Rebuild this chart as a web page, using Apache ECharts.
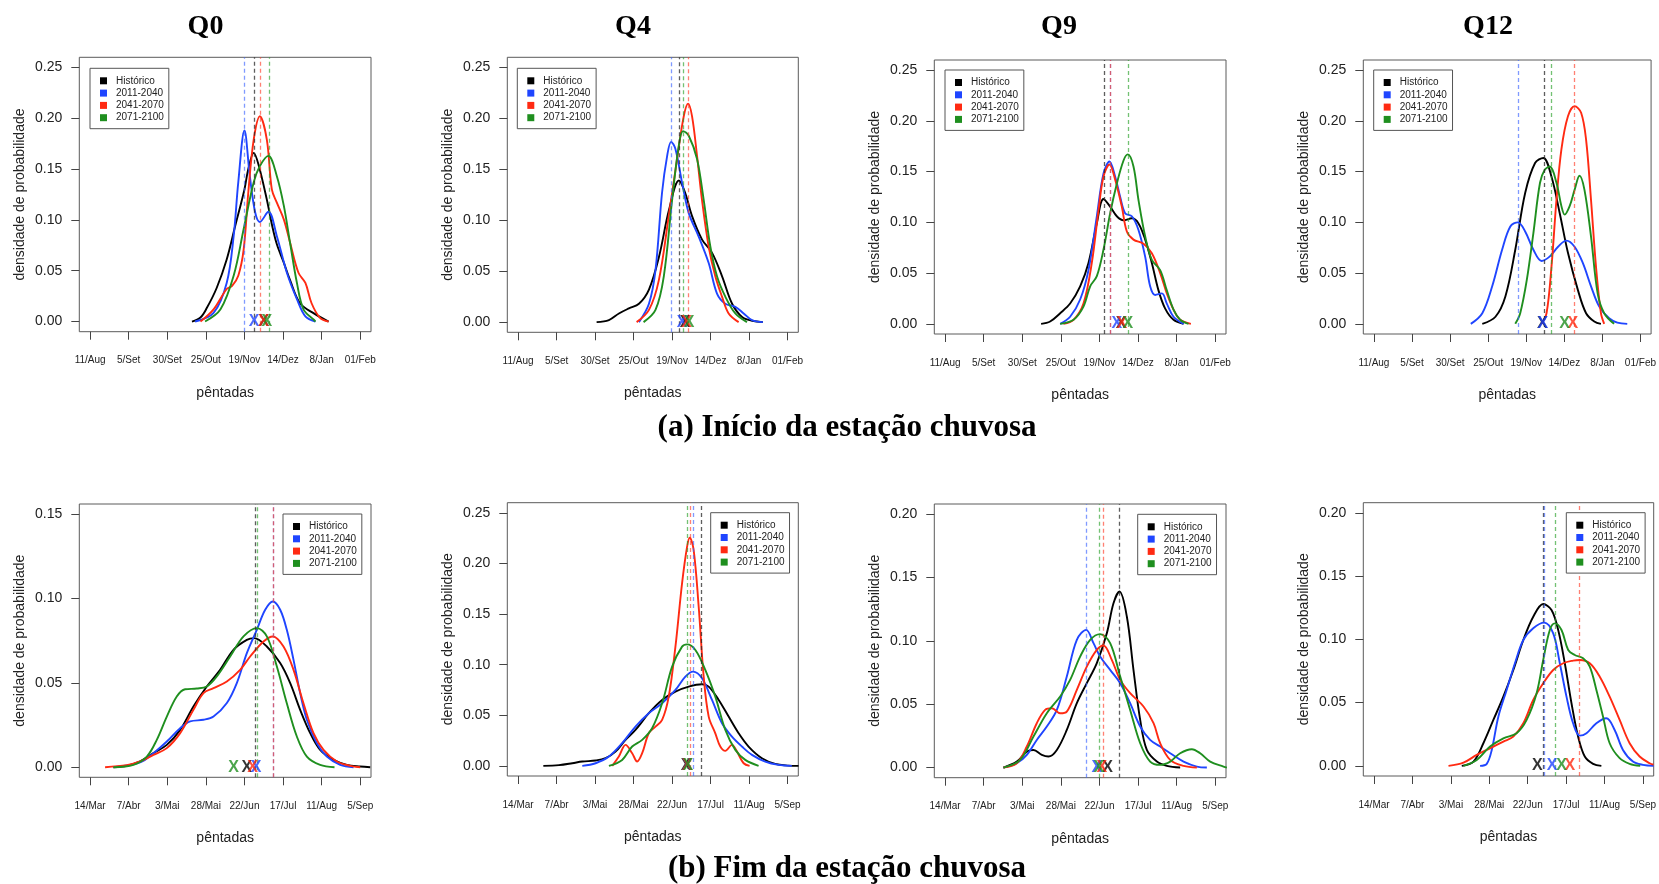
<!DOCTYPE html>
<html>
<head>
<meta charset="utf-8">
<script src="https://cdn.jsdelivr.net/npm/echarts@6/dist/echarts.min.js"></script>
<style>
  html, body { margin: 0; padding: 0; background: #ffffff; }
  #chart { width: 1659px; height: 884px; }
</style>
</head>
<body>
<div id="chart"></div>
<script>
// ---- series and labels -------------------------------------------------
const seriesNames = ['Histórico', '2011-2040', '2041-2070', '2071-2100'];
const quantileTitles = ['Q0', 'Q4', 'Q9', 'Q12'];
const sectionCaptions = ['(a) Início da estação chuvosa', '(b) Fim da estação chuvosa'];

// x axis: pêntadas, one tick every 5 pentads
const onsetTickLabels = ['11/Aug', '5/Set', '30/Set', '25/Out', '19/Nov', '14/Dez', '8/Jan', '01/Feb'];
const endTickLabels = ['14/Mar', '7/Abr', '3/Mai', '28/Mai', '22/Jun', '17/Jul', '11/Aug', '5/Sep'];
const xTickValues = [0, 5, 10, 15, 20, 25, 30, 35];
const yTickValues = [0, 0.05, 0.10, 0.15, 0.20, 0.25];
const onsetYMax = [0.25, 0.25, 0.25, 0.25];
const endYMax = [0.15, 0.25, 0.20, 0.20];

// ---- (a) onset densities: [pentad, density] ----------------------------
const onsetQ0Hist = [[13.2,0],[14.3,0.004],[15.1,0.013],[16.4,0.033],[17.7,0.061],[18.8,0.094],[20.0,0.130],[20.5,0.150],[21.2,0.166],[21.8,0.155],[22.9,0.120],[23.6,0.094],[24.2,0.076],[25.1,0.058],[25.9,0.041],[27.2,0.018],[29.0,0.008],[30.9,0]];
const onsetQ0P1 = [[13.6,0],[16.0,0.0085],[17.7,0.038],[18.6,0.084],[19.2,0.137],[20.0,0.188],[20.7,0.143],[21.4,0.107],[22.0,0.098],[23.1,0.108],[24.2,0.084],[25.5,0.048],[26.8,0.022],[27.9,0.005],[29.2,0]];
const onsetQ0P2 = [[14.3,0],[16.0,0.012],[17.7,0.032],[18.4,0.035],[19.2,0.045],[19.9,0.071],[20.5,0.127],[21.2,0.179],[22.0,0.202],[22.9,0.179],[23.55,0.130],[24.2,0.117],[25.1,0.1005],[25.9,0.078],[27.0,0.048],[27.9,0.038],[28.7,0.018],[29.8,0.0036],[30.9,0]];
const onsetQ0P3 = [[14.9,0],[16.9,0.012],[18.6,0.045],[19.9,0.091],[21.2,0.137],[22.0,0.153],[23.1,0.163],[24.2,0.143],[25.1,0.114],[25.9,0.078],[26.8,0.038],[27.65,0.012],[28.95,0.002],[29.2,0]];
const onsetQ0Lines = [21.26, 20.0, 22.08, 23.16];
const onsetQ0Crosses = [22.5, 21.26, 22.47, 22.9];

const onsetQ4Hist = [[10.2,0],[11.8,0.002],[13.1,0.0085],[14.4,0.0135],[15.7,0.018],[17.0,0.032],[18.3,0.064],[19.6,0.110],[20.9,0.139],[21.7,0.127],[22.6,0.104],[23.9,0.081],[25.2,0.068],[26.5,0.045],[27.8,0.018],[29.1,0.005],[30.4,0.0013],[31.8,0]];
const onsetQ4P1 = [[15.7,0],[17.0,0.018],[17.85,0.051],[18.7,0.127],[19.36,0.163],[19.88,0.177],[20.44,0.170],[21.3,0.137],[22.17,0.107],[23.46,0.084],[24.76,0.058],[25.84,0.028],[26.92,0.018],[28.22,0.015],[29.3,0.0085],[30.38,0.002],[31.8,0]];
const onsetQ4P2 = [[15.4,0],[17.0,0.012],[18.28,0.041],[19.57,0.104],[20.65,0.160],[21.52,0.202],[22.08,0.2145],[22.6,0.202],[23.25,0.163],[23.89,0.120],[24.76,0.074],[25.62,0.045],[26.49,0.025],[27.35,0.0085],[28.65,0]];
const onsetQ4P3 = [[16.3,0],[17.85,0.012],[18.93,0.045],[20.01,0.120],[20.87,0.173],[21.43,0.1875],[22.17,0.183],[23.25,0.160],[24.11,0.120],[24.98,0.074],[25.84,0.045],[26.92,0.025],[28.22,0.0085],[29.73,0]];
const onsetQ4Lines = [20.96, 19.88, 22.12, 21.48];
const onsetQ4Crosses = [21.7, 21.3, 21.9, 22.2];

const onsetQ9Hist = [[12.44,0],[13.61,0.0023],[14.91,0.0105],[16.2,0.020],[17.5,0.037],[18.58,0.060],[19.66,0.099],[20.52,0.123],[21.39,0.1155],[22.25,0.106],[23.12,0.102],[24.2,0.104],[25.06,0.099],[25.93,0.083],[26.79,0.060],[27.65,0.033],[28.52,0.015],[29.6,0.004],[30.9,0]];
const onsetQ9P1 = [[14.91,0],[16.2,0.007],[17.5,0.024],[18.58,0.053],[19.66,0.106],[20.52,0.148],[21.3,0.160],[22.04,0.145],[22.69,0.125],[23.33,0.109],[24.2,0.106],[25.06,0.0925],[25.93,0.066],[26.57,0.037],[27.22,0.0285],[28.09,0.030],[28.73,0.020],[29.6,0.007],[30.9,0]];
const onsetQ9P2 = [[15.34,0],[16.64,0.004],[17.93,0.020],[19.01,0.060],[19.88,0.112],[20.52,0.145],[21.3,0.157],[22.04,0.142],[22.9,0.1155],[23.55,0.091],[24.41,0.083],[25.71,0.079],[26.79,0.0696],[27.87,0.050],[28.73,0.030],[29.6,0.014],[30.46,0.004],[31.85,0]];
const onsetQ9P3 = [[14.91,0],[16.64,0.004],[17.93,0.017],[18.8,0.037],[19.66,0.047],[20.52,0.073],[21.39,0.109],[22.25,0.138],[23.12,0.161],[23.68,0.167],[24.41,0.155],[25.06,0.122],[25.93,0.086],[26.79,0.063],[27.87,0.053],[28.73,0.033],[29.6,0.014],[30.46,0.004],[31.54,0]];
const onsetQ9Lines = [20.61, 21.35, 21.42, 23.68];
const onsetQ9Crosses = [22.8, 22.25, 22.9, 23.68];

const onsetQ12Hist = [[14.23,0],[15.96,0.007],[17.26,0.027],[18.56,0.073],[19.86,0.129],[21.16,0.1585],[22.24,0.1635],[23.32,0.145],[24.4,0.109],[25.48,0.070],[26.78,0.0335],[27.86,0.0105],[28.94,0.0023],[29.81,0]];
const onsetQ12P1 = [[12.72,0],[14.23,0.0105],[15.53,0.037],[16.83,0.073],[17.91,0.096],[18.91,0.100],[19.86,0.091],[20.94,0.073],[22.02,0.062],[23.1,0.0665],[24.18,0.076],[25.27,0.082],[26.35,0.076],[27.43,0.060],[28.51,0.037],[29.59,0.017],[30.89,0.0056],[31.97,0.0013],[33.27,0]];
const onsetQ12P2 = [[22.02,0],[22.67,0.0105],[23.32,0.0566],[23.97,0.122],[24.62,0.172],[25.48,0.2046],[26.35,0.2145],[27.21,0.208],[27.86,0.1816],[28.51,0.122],[29.16,0.0566],[29.81,0.0105],[30.24,0]];
const onsetQ12P3 = [[18.56,0],[19.21,0.0105],[20.07,0.043],[20.94,0.0895],[21.81,0.139],[22.45,0.152],[23.1,0.155],[23.97,0.139],[24.62,0.116],[25.05,0.1076],[25.7,0.116],[26.35,0.132],[27.0,0.146],[27.65,0.132],[28.51,0.086],[29.38,0.030],[30.24,0.0105],[31.54,0]];
const onsetQ12Lines = [22.37, 18.91, 26.35, 23.23];
const onsetQ12Crosses = [22.11, 22.19, 26.13, 25.05];

// ---- (b) end-of-season densities ---------------------------------------
const endQ0Hist = [[3.02,0],[4.75,0.0008],[6.48,0.0034],[8.21,0.0083],[9.94,0.0132],[11.67,0.0221],[13.39,0.036],[15.12,0.0478],[16.85,0.0577],[18.58,0.0696],[20.31,0.0755],[21.26,0.0765],[22.9,0.0715],[24.63,0.0617],[25.93,0.0498],[27.22,0.034],[28.52,0.0202],[29.81,0.0103],[31.54,0.0043],[33.27,0.0014],[35.0,0.0004],[36.3,0]];
const endQ0P1 = [[3.02,0],[6.48,0.0028],[8.21,0.0083],[9.94,0.0152],[11.67,0.0231],[12.96,0.0271],[14.69,0.0281],[15.99,0.030],[17.72,0.038],[19.01,0.0498],[20.31,0.0676],[21.6,0.0814],[22.69,0.0933],[23.68,0.0982],[24.63,0.0933],[25.49,0.0814],[26.36,0.0636],[27.22,0.0439],[28.09,0.0281],[29.38,0.0142],[30.68,0.0063],[32.41,0.0014],[34.14,0]];
const endQ0P2 = [[1.94,0],[4.75,0.0012],[6.48,0.0034],[8.21,0.0073],[9.94,0.0113],[11.67,0.0202],[13.39,0.034],[14.69,0.0439],[15.99,0.0468],[17.72,0.0508],[19.44,0.0577],[20.74,0.0656],[22.47,0.0745],[23.68,0.0775],[25.06,0.0715],[26.36,0.0577],[27.65,0.0379],[28.95,0.0202],[30.25,0.0103],[31.98,0.0034],[33.7,0.0008],[35.0,0]];
const endQ0P3 = [[3.02,0],[5.62,0.0014],[7.35,0.0063],[8.64,0.0162],[9.94,0.030],[11.23,0.0419],[12.31,0.0462],[13.83,0.0466],[15.12,0.0478],[16.42,0.0538],[18.15,0.0656],[19.88,0.0775],[21.6,0.0824],[22.9,0.0775],[24.2,0.0597],[25.49,0.0379],[26.79,0.0182],[28.09,0.0063],[29.81,0.0014],[31.67,0]];
const endQ0Lines = [21.35, 23.68, 23.72, 21.69];
const endQ0Crosses = [20.31, 21.52, 21.04, 18.58];

const endQ4Hist = [[3.28,0],[5.31,0.0007],[7.04,0.0026],[8.34,0.0043],[10.07,0.0053],[11.36,0.0076],[12.66,0.0141],[13.96,0.0257],[15.25,0.0355],[16.98,0.052],[18.71,0.0651],[20.44,0.0734],[22.17,0.0783],[23.89,0.0806],[24.76,0.0783],[26.06,0.0651],[27.35,0.0487],[28.65,0.0322],[29.94,0.0191],[31.67,0.0076],[33.4,0.002],[35.13,0.0003],[36.43,0]];
const endQ4P1 = [[8.34,0],[10.07,0.0026],[11.8,0.0092],[13.52,0.0224],[15.25,0.0388],[16.98,0.052],[18.71,0.0618],[20.44,0.075],[21.73,0.0882],[22.73,0.0931],[23.89,0.0865],[25.19,0.0651],[26.49,0.0421],[27.78,0.0289],[29.08,0.0191],[30.38,0.0109],[32.1,0.0043],[33.83,0.001],[35.56,0]];
const endQ4P2 = [[12.23,0],[13.09,0.0092],[13.96,0.0207],[14.82,0.0125],[15.47,0.0043],[16.12,0.0125],[16.98,0.0322],[17.85,0.0388],[18.71,0.0454],[19.57,0.0684],[20.44,0.1178],[21.3,0.1803],[21.95,0.2164],[22.3,0.2253],[22.81,0.2132],[23.46,0.1572],[24.11,0.0882],[24.76,0.0487],[25.62,0.0322],[26.27,0.0191],[26.92,0.0148],[27.78,0.0207],[28.43,0.0141],[29.3,0.0026],[30.07,0]];
const endQ4P3 = [[11.8,0],[13.52,0.0059],[14.82,0.0191],[16.12,0.0257],[17.41,0.0372],[18.71,0.0618],[20.01,0.098],[21.3,0.1178],[21.95,0.12],[23.03,0.1145],[24.33,0.0947],[25.62,0.0684],[26.92,0.0355],[28.22,0.0158],[29.51,0.0059],[31.24,0]];
const endQ4Lines = [23.76, 22.73, 22.3, 21.95];
const endQ4Crosses = [21.82, 21.95, 21.95, 22.04];

const endQ9Hist = [[7.56,0],[9.29,0.0047],[10.59,0.0126],[11.45,0.0139],[12.53,0.010],[13.39,0.0087],[14.48,0.0139],[15.77,0.0297],[17.07,0.0508],[18.36,0.0666],[19.66,0.0824],[20.96,0.1061],[21.82,0.1297],[22.6,0.1389],[23.55,0.1192],[24.41,0.0771],[25.28,0.0376],[26.14,0.0139],[27.44,0.0047],[28.73,0.0013],[30.46,0]];
const endQ9P1 = [[7.56,0],[9.29,0.0034],[10.59,0.010],[11.88,0.0218],[13.18,0.0324],[14.48,0.0455],[15.77,0.0718],[17.07,0.1008],[18.28,0.1087],[19.23,0.0982],[20.09,0.0876],[21.39,0.0771],[22.69,0.0666],[23.98,0.0508],[25.28,0.0324],[26.57,0.0218],[27.87,0.0166],[29.17,0.0113],[30.9,0.0047],[32.62,0.0008],[33.92,0]];
const endQ9P2 = [[7.56,0],[9.29,0.0034],[10.59,0.0166],[11.88,0.035],[12.96,0.0455],[13.83,0.0468],[14.91,0.0429],[15.77,0.0442],[17.07,0.0613],[18.36,0.0797],[19.66,0.0929],[20.52,0.0963],[21.6,0.085],[22.69,0.0692],[23.98,0.0587],[25.71,0.0482],[27.01,0.035],[27.87,0.0192],[29.17,0.0061],[30.9,0.0013],[32.62,0]];
const endQ9P3 = [[7.56,0],[9.72,0.0061],[11.45,0.0245],[13.18,0.0429],[14.91,0.0561],[16.2,0.0692],[17.5,0.0876],[18.8,0.1008],[20.09,0.1053],[21.39,0.0982],[22.69,0.0718],[23.98,0.0455],[25.28,0.0192],[26.57,0.0047],[27.87,0.0021],[29.17,0.0047],[30.46,0.0113],[31.97,0.0145],[33.05,0.0113],[34.35,0.0047],[36.08,0.0008],[36.51,0]];
const endQ9Lines = [22.6, 18.28, 20.52, 20.01];
const endQ9Crosses = [21.04, 19.66, 20.31, 19.92];

const endQ12Hist = [[11.42,0],[12.94,0.0034],[14.23,0.0179],[15.53,0.0363],[16.83,0.0547],[18.13,0.0758],[19.43,0.0995],[20.72,0.1179],[22.02,0.1279],[23.1,0.1232],[23.97,0.1074],[24.83,0.0811],[25.7,0.0495],[26.56,0.0232],[27.43,0.0074],[28.51,0.0016],[29.59,0]];
const endQ12P1 = [[13.8,0],[14.67,0.0016],[15.32,0.0126],[16.18,0.0389],[17.26,0.060],[18.34,0.0811],[19.43,0.0995],[20.72,0.1087],[22.15,0.1132],[23.32,0.1047],[24.18,0.0811],[25.05,0.0547],[25.91,0.0337],[26.78,0.0239],[27.65,0.0258],[28.94,0.0337],[30.24,0.0376],[31.32,0.0284],[32.4,0.0126],[33.7,0.0034],[35.0,0.0008],[36.38,0]];
const endQ12P2 = [[9.69,0],[11.64,0.0026],[13.37,0.0087],[15.1,0.0139],[16.83,0.0192],[18.13,0.0232],[19.43,0.0337],[20.72,0.0521],[22.02,0.0653],[23.32,0.0758],[24.62,0.0811],[25.91,0.0832],[26.78,0.0837],[28.08,0.0811],[29.38,0.0705],[30.67,0.0547],[31.97,0.0363],[33.27,0.0179],[34.57,0.0074],[35.87,0.0021],[36.38,0.001]];
const endQ12P3 = [[11.64,0],[13.37,0.0047],[15.1,0.0153],[16.83,0.0218],[18.56,0.0258],[19.86,0.0363],[21.16,0.0574],[22.02,0.0837],[22.88,0.1074],[23.53,0.1126],[24.4,0.1074],[25.27,0.0916],[26.13,0.0876],[27.21,0.085],[28.08,0.0784],[28.94,0.060],[29.81,0.0389],[30.67,0.0179],[31.97,0.0061],[33.27,0.0016],[34.65,0]];
const endQ12Lines = [22.02, 22.19, 26.69, 23.58];
const endQ12Crosses = [21.24, 23.19, 25.48, 24.4];

// ---- styling -----------------------------------------------------------
const seriesColors = ['#000000', '#1f45ff', '#ff2a12', '#1f8f1f'];
const dashColors = ['rgba(40,40,40,0.75)', 'rgba(60,100,255,0.65)', 'rgba(255,60,40,0.65)', 'rgba(40,160,40,0.65)'];
const SANS = '"Liberation Sans", Arial, Helvetica, sans-serif';
const SERIF = '"Liberation Serif", "Times New Roman", serif';

// plot boxes [left, top, width, height] and legend anchors [left, top]
const panels = [
  { box: [79.3, 57.3, 291.7, 274.4], legend: [90, 68.3], ymax: onsetYMax[0], ticks: onsetTickLabels,
    curves: [onsetQ0Hist, onsetQ0P1, onsetQ0P2, onsetQ0P3], lines: onsetQ0Lines, crosses: onsetQ0Crosses },
  { box: [507.3, 57.3, 291, 275], legend: [517.3, 68.3], ymax: onsetYMax[1], ticks: onsetTickLabels,
    curves: [onsetQ4Hist, onsetQ4P1, onsetQ4P2, onsetQ4P3], lines: onsetQ4Lines, crosses: onsetQ4Crosses },
  { box: [934.3, 60, 291.7, 274], legend: [945, 70], ymax: onsetYMax[2], ticks: onsetTickLabels,
    curves: [onsetQ9Hist, onsetQ9P1, onsetQ9P2, onsetQ9P3], lines: onsetQ9Lines, crosses: onsetQ9Crosses },
  { box: [1363.3, 60, 291.7, 274], legend: [1373.7, 70], ymax: onsetYMax[3], ticks: onsetTickLabels,
    curves: [onsetQ12Hist, onsetQ12P1, onsetQ12P2, onsetQ12P3], lines: onsetQ12Lines, crosses: onsetQ12Crosses },
  { box: [79.3, 504, 291.7, 273.3], legend: [283, 514], ymax: endYMax[0], ticks: endTickLabels,
    curves: [endQ0Hist, endQ0P1, endQ0P2, endQ0P3], lines: endQ0Lines, crosses: endQ0Crosses },
  { box: [507.3, 502.7, 291, 273.3], legend: [710.7, 512.7], ymax: endYMax[1], ticks: endTickLabels,
    curves: [endQ4Hist, endQ4P1, endQ4P2, endQ4P3], lines: endQ4Lines, crosses: endQ4Crosses },
  { box: [934.3, 504, 291.7, 273.7], legend: [1137.7, 514.3], ymax: endYMax[2], ticks: endTickLabels,
    curves: [endQ9Hist, endQ9P1, endQ9P2, endQ9P3], lines: endQ9Lines, crosses: endQ9Crosses },
  { box: [1363.3, 502.7, 290.7, 273.3], legend: [1566.3, 512.7], ymax: endYMax[3], ticks: endTickLabels,
    curves: [endQ12Hist, endQ12P1, endQ12P2, endQ12P3], lines: endQ12Lines, crosses: endQ12Crosses }
];

const titleAnchors = [[205.5, 27], [633, 27], [1059, 27], [1488, 27]];
const captionAnchors = [[847, 428], [847, 869]];

// ---- option assembly ---------------------------------------------------
const grid = [], xAxis = [], yAxis = [], legend = [], series = [];

panels.forEach((p, i) => {
  const [left, top, width, height] = p.box;
  const yTicks = yTickValues.filter(v => v <= p.ymax + 1e-9);
  const tickLabels = p.ticks;

  grid.push({ left, top, width, height, show: true, borderColor: '#5a5a5a', borderWidth: 1, backgroundColor: 'transparent' });

  xAxis.push({
    type: 'value', gridIndex: i, min: -1.4, max: 36.4,
    axisLine: { show: false, onZero: false },
    axisTick: { show: true, length: 8, lineStyle: { color: '#444', width: 1 }, customValues: xTickValues },
    axisLabel: {
      customValues: xTickValues, margin: 24, fontSize: 10, color: '#222', fontFamily: SANS,
      formatter: v => tickLabels[Math.round(v / 5)]
    },
    splitLine: { show: false },
    name: 'pêntadas', nameLocation: 'middle', nameGap: 54,
    nameTextStyle: { fontSize: 14, color: '#222', fontFamily: SANS }
  });

  yAxis.push({
    type: 'value', gridIndex: i, min: -0.04 * p.ymax, max: 1.04 * p.ymax,
    axisLine: { show: false, onZero: false },
    axisTick: { show: true, length: 8, lineStyle: { color: '#444', width: 1 }, customValues: yTicks },
    axisLabel: {
      customValues: yTicks, margin: 17, fontSize: 14, color: '#222', fontFamily: SANS,
      formatter: v => v.toFixed(2)
    },
    splitLine: { show: false },
    name: 'densidade de probabilidade', nameLocation: 'middle', nameGap: 52,
    nameTextStyle: { fontSize: 14, color: '#222', fontFamily: SANS }
  });

  legend.push({
    left: p.legend[0], top: p.legend[1], orient: 'vertical',
    data: seriesNames.map(name => ({ name, icon: 'rect' })),
    itemWidth: 7, itemHeight: 7, itemGap: 2.3,
    padding: [7.5, 5, 6, 10],
    borderColor: '#555', borderWidth: 1, backgroundColor: '#fff',
    selectedMode: false,
    itemStyle: { borderWidth: 0 },
    textStyle: { fontSize: 10, color: '#222', fontFamily: SANS, lineHeight: 10, padding: [0, 0, 0, 4] },
    z: 8
  });

  p.curves.forEach((data, j) => {
    series.push({
      type: 'line', name: seriesNames[j], xAxisIndex: i, yAxisIndex: i,
      data, smooth: 0.35, symbol: 'none', showSymbol: false, clip: true,
      lineStyle: { color: seriesColors[j], width: 1.9 },
      itemStyle: { color: seriesColors[j] },
      silent: true, animation: false, z: 3,
      markLine: {
        silent: true, symbol: 'none', animation: false,
        label: { show: false },
        lineStyle: { type: [4, 3], color: dashColors[j], width: 1.3 },
        data: [{ xAxis: p.lines[j] }]
      }
    });
  });

  series.push({
    type: 'scatter', xAxisIndex: i, yAxisIndex: i,
    symbol: 'circle', symbolSize: 1,
    itemStyle: { color: 'rgba(0,0,0,0)' },
    label: { show: true, formatter: 'X', position: 'inside', fontSize: 16, fontWeight: 'bold', fontFamily: SANS },
    data: p.crosses.map((x, j) => ({ value: [x, 0], label: { color: seriesColors[j] } })),
    silent: true, animation: false, z: 6
  });
});

const graphic = [];
quantileTitles.forEach((t, k) => {
  graphic.push({
    type: 'text', x: titleAnchors[k][0], y: titleAnchors[k][1], silent: true,
    style: { text: t, font: 'bold 28px ' + SERIF, fill: '#000',
             align: 'center', verticalAlign: 'middle', textAlign: 'center', textVerticalAlign: 'middle' }
  });
});
sectionCaptions.forEach((t, k) => {
  graphic.push({
    type: 'text', x: captionAnchors[k][0], y: captionAnchors[k][1], silent: true,
    style: { text: t, font: 'bold 31px ' + SERIF, fill: '#000',
             align: 'center', verticalAlign: 'middle', textAlign: 'center', textVerticalAlign: 'middle' }
  });
});

const chart = echarts.init(document.getElementById('chart'), null, { renderer: 'canvas' });
chart.setOption({
  backgroundColor: '#ffffff',
  animation: false,
  textStyle: { fontFamily: SANS },
  grid, xAxis, yAxis, legend, series, graphic
});
</script>
</body>
</html>
